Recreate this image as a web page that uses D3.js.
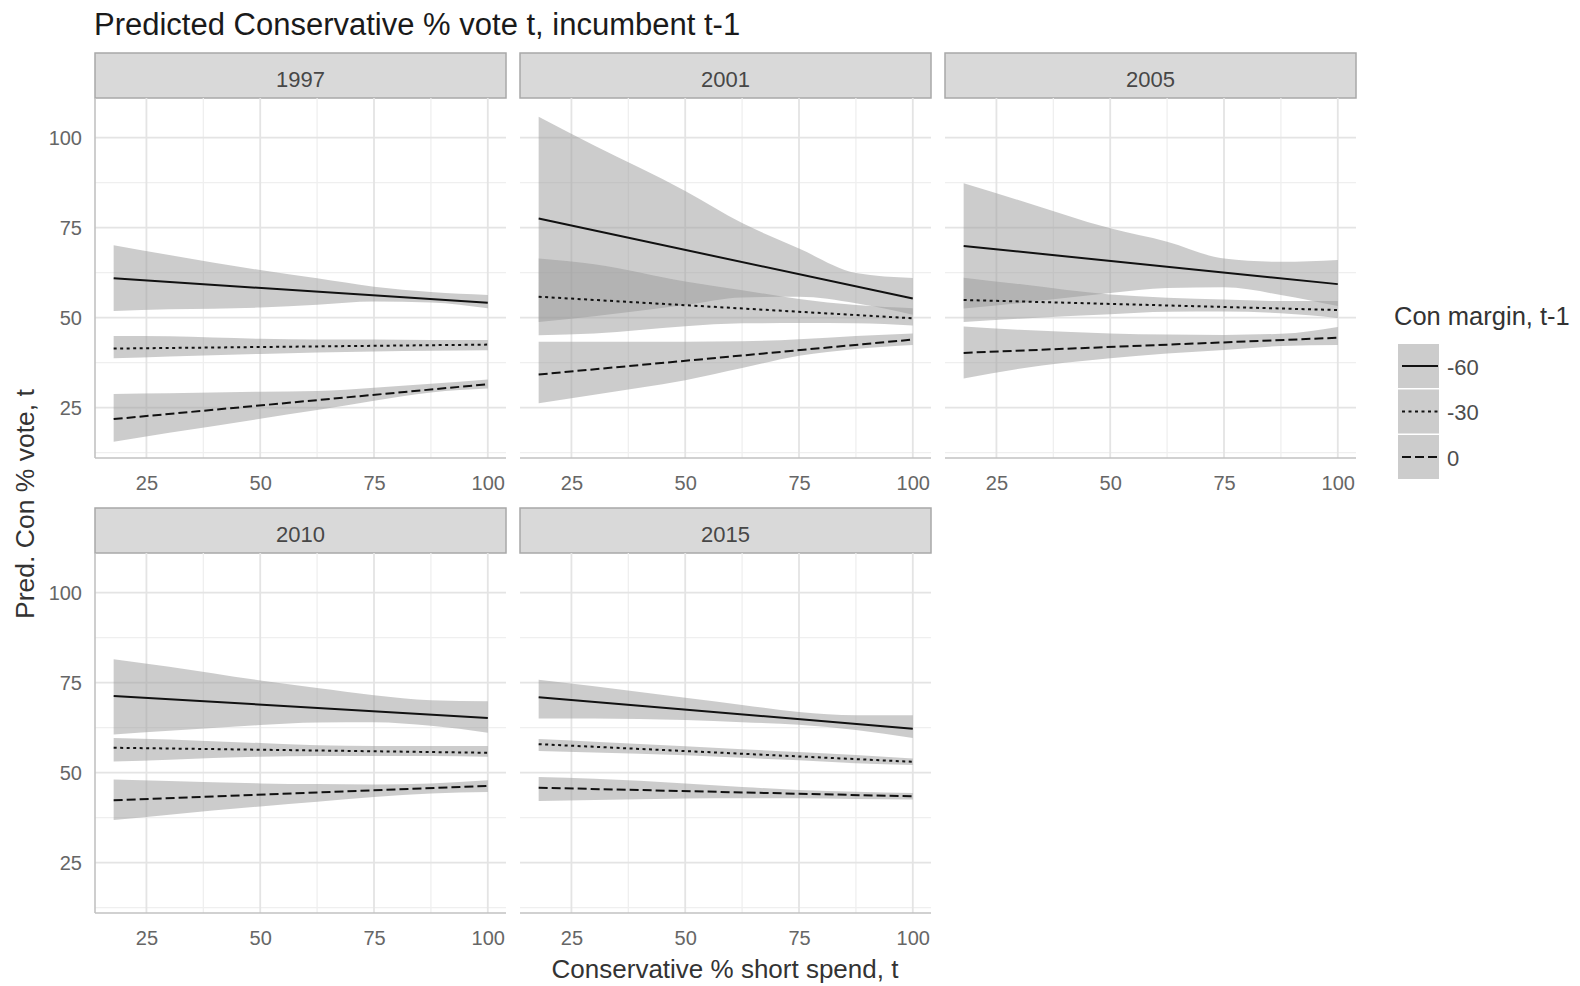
<!DOCTYPE html>
<html lang="en">
<head>
<meta charset="UTF-8">
<title>Predicted Conservative % vote t, incumbent t-1</title>
<script src="https://d3js.org/d3.v7.min.js"></script>
<style>
  body { margin: 0; background: #fff; }
  text { font-family: "Liberation Sans", Arial, sans-serif; }
</style>
</head>
<body>
<svg width="1580" height="986"></svg>
<script>
// facets and legend levels
const years = ["1997", "2001", "2005", "2010", "2015"];
const marginLevels = ["-60", "-30", "0"];
const dashStyles = ["none", "3,3.5", "9,4"];

const xTicks = [25, 50, 75, 100];
const yTicks = [25, 50, 75, 100];
const xMinor = [37.5, 62.5, 87.5];
const yMinor = [12.5, 37.5, 62.5, 87.5];

// x positions at which the confidence bands were read
const bandX = [17.8, 30, 50, 62.5, 75, 87.5, 100];
const fitX = [17.8, 100];

// per year: fitted line ends [-60, -30, 0], band lower / upper
const fit1997 = [[60.9, 54.1], [41.4, 42.5], [21.8, 31.5]];
const lo1997 = [[51.8, 52.3, 52.8, 53.6, 54.5, 54.2, 52.6],
                [38.7, 39.2, 39.9, 40.3, 40.6, 40.8, 40.9],
                [15.5, 18.0, 21.9, 24.3, 26.9, 29.2, 30.3]];
const hi1997 = [[70.1, 67.4, 63.2, 60.9, 58.6, 57.1, 56.3],
                [44.9, 44.8, 44.1, 43.9, 43.9, 43.8, 43.8],
                [28.8, 29.0, 29.4, 29.6, 30.5, 31.6, 32.8]];

const fit2001 = [[77.5, 55.3], [55.8, 49.8], [34.2, 43.9]];
const lo2001 = [[48.8, 50.4, 53.5, 55.6, 55.8, 54.0, 50.8],
                [45.1, 45.6, 47.6, 48.4, 48.5, 48.4, 47.8],
                [26.2, 28.6, 32.6, 36.0, 39.4, 41.3, 42.4]];
const hi2001 = [[105.8, 97.8, 85.2, 76.3, 69.2, 62.4, 61.0],
                [66.4, 64.8, 60.0, 57.6, 55.2, 53.5, 52.6],
                [43.3, 43.3, 43.3, 43.4, 44.0, 44.9, 45.6]];

const fit2005 = [[69.9, 59.3], [54.9, 52.1], [40.2, 44.4]];
const lo2005 = [[52.5, 54.0, 56.8, 58.2, 58.4, 56.3, 53.2],
                [48.8, 49.7, 50.9, 51.6, 51.7, 51.2, 49.9],
                [33.1, 35.8, 38.7, 40.0, 41.0, 42.1, 42.4]];
const hi2005 = [[87.3, 82.6, 74.8, 71.1, 66.4, 65.5, 66.0],
                [61.1, 59.3, 56.4, 55.5, 55.0, 54.6, 54.6],
                [47.5, 46.6, 45.6, 45.3, 45.2, 45.5, 47.4]];

const fit2010 = [[71.3, 65.2], [56.9, 55.5], [42.3, 46.3]];
const lo2010 = [[60.6, 61.6, 63.2, 63.9, 64.0, 63.0, 61.1],
                [53.1, 53.6, 54.4, 54.6, 54.6, 54.6, 54.4],
                [36.8, 38.3, 40.6, 41.9, 43.2, 44.2, 44.6]];
const hi2010 = [[81.5, 79.4, 75.6, 73.5, 71.5, 70.1, 69.8],
                [59.6, 59.2, 58.2, 57.6, 57.4, 57.4, 57.4],
                [48.1, 47.7, 47.0, 46.8, 46.7, 47.0, 47.9]];

const fit2015 = [[70.9, 62.2], [57.9, 53.0], [45.8, 43.4]];
const lo2015 = [[65.0, 65.0, 64.6, 64.0, 63.3, 61.8, 59.6],
                [56.0, 55.6, 54.8, 54.1, 53.4, 52.6, 52.1],
                [42.1, 42.4, 42.8, 42.9, 42.9, 42.7, 42.5]];
const hi2015 = [[75.8, 74.0, 70.8, 68.8, 66.8, 65.9, 65.9],
                [59.3, 58.6, 57.3, 56.5, 55.7, 54.9, 53.9],
                [48.8, 48.3, 47.0, 46.0, 45.2, 44.7, 44.3]];

const fits = [fit1997, fit2001, fit2005, fit2010, fit2015];
const lows = [lo1997, lo2001, lo2005, lo2010, lo2015];
const highs = [hi1997, hi2001, hi2005, hi2010, hi2015];

const svg = d3.select("svg");

const colLeft = [95, 520, 945],
      rowTop = [53, 508],
      panelW = 411, stripH = 45, panelH = 360;

const x = d3.scaleLinear().domain([13.7, 104.0]).range([0, panelW]);
const y = d3.scaleLinear().domain([11, 111]).range([panelH, 0]);

const band = d3.area()
    .x(d => x(d.x)).y0(d => y(d.lo)).y1(d => y(d.hi))
    .curve(d3.curveMonotoneX);
const line = d3.line().x(d => x(d.x)).y(d => y(d.v));

years.forEach((yr, i) => {
    const col = i % 3, row = Math.floor(i / 3);
    const left = colLeft[col], top = rowTop[row];

    // strip
    svg.append("rect")
       .attr("x", left).attr("y", top)
       .attr("width", panelW).attr("height", stripH)
       .attr("fill", "#d9d9d9").attr("stroke", "#a8a8a8").attr("stroke-width", 1.5);
    svg.append("text")
       .attr("x", left + panelW / 2).attr("y", top + stripH / 2 + 11)
       .attr("text-anchor", "middle").attr("font-size", 22).attr("fill", "#474747")
       .text(yr);

    const g = svg.append("g").attr("transform", `translate(${left},${top + stripH})`);

    // grid
    g.selectAll(".gy").data(yMinor).enter().append("line")
     .attr("x1", 0).attr("x2", panelW).attr("y1", d => y(d)).attr("y2", d => y(d))
     .attr("stroke", "#efefef").attr("stroke-width", 1.3);
    g.selectAll(".gx").data(xMinor).enter().append("line")
     .attr("y1", 0).attr("y2", panelH).attr("x1", d => x(d)).attr("x2", d => x(d))
     .attr("stroke", "#efefef").attr("stroke-width", 1.3);
    g.selectAll(".gY").data(yTicks).enter().append("line")
     .attr("x1", 0).attr("x2", panelW).attr("y1", d => y(d)).attr("y2", d => y(d))
     .attr("stroke", "#e4e4e4").attr("stroke-width", 1.8);
    g.selectAll(".gX").data(xTicks).enter().append("line")
     .attr("y1", 0).attr("y2", panelH).attr("x1", d => x(d)).attr("x2", d => x(d))
     .attr("stroke", "#e4e4e4").attr("stroke-width", 1.8);

    // confidence bands
    marginLevels.forEach((m, k) => {
        const pts = bandX.map((bx, j) => ({ x: bx, lo: lows[i][k][j], hi: highs[i][k][j] }));
        g.append("path").datum(pts)
         .attr("d", band).attr("fill", "#999999").attr("fill-opacity", 0.5);
    });
    // fitted lines
    marginLevels.forEach((m, k) => {
        const pts = fitX.map((fx, j) => ({ x: fx, v: fits[i][k][j] }));
        g.append("path").datum(pts)
         .attr("d", line).attr("fill", "none").attr("stroke", "#111")
         .attr("stroke-width", 2)
         .attr("stroke-dasharray", dashStyles[k]);
    });

    // axis lines
    g.append("line").attr("x1", 0).attr("x2", panelW).attr("y1", panelH).attr("y2", panelH)
     .attr("stroke", "#c2c2c2").attr("stroke-width", 1.6);
    if (col === 0) {
        g.append("line").attr("x1", 0).attr("x2", 0).attr("y1", 0).attr("y2", panelH)
         .attr("stroke", "#c2c2c2").attr("stroke-width", 1.6);
        const ya = g.append("g")
            .call(d3.axisLeft(y).tickValues(yTicks).tickSize(0).tickPadding(13));
        ya.select(".domain").remove();
        ya.selectAll("text").attr("font-size", 20).attr("fill", "#666")
          .attr("font-family", "Liberation Sans, Arial, sans-serif");
    }
    const xa = g.append("g").attr("transform", `translate(0,${panelH})`)
        .call(d3.axisBottom(x).tickValues(xTicks).tickSize(0).tickPadding(18));
    xa.select(".domain").remove();
    xa.selectAll("text").attr("font-size", 20).attr("fill", "#666")
      .attr("font-family", "Liberation Sans, Arial, sans-serif");
});

// titles
svg.append("text").attr("x", 94).attr("y", 35)
   .attr("font-size", 31).attr("fill", "#1a1a1a")
   .text("Predicted Conservative % vote t, incumbent t-1");
svg.append("text").attr("x", 725).attr("y", 978)
   .attr("text-anchor", "middle").attr("font-size", 26).attr("fill", "#333")
   .text("Conservative % short spend, t");
svg.append("text").attr("transform", "translate(34,504) rotate(-90)")
   .attr("text-anchor", "middle").attr("font-size", 26.5).attr("fill", "#333")
   .text("Pred. Con % vote, t");

// legend
const lg = svg.append("g");
lg.append("text").attr("x", 1394).attr("y", 325)
  .attr("font-size", 25.5).attr("fill", "#333").text("Con margin, t-1");
marginLevels.forEach((m, k) => {
    const ky = 344 + k * 45.5;
    lg.append("rect").attr("x", 1398).attr("y", ky).attr("width", 41).attr("height", 44)
      .attr("fill", "#999999").attr("fill-opacity", 0.5);
    lg.append("line").attr("x1", 1402).attr("x2", 1438).attr("y1", ky + 22).attr("y2", ky + 22)
      .attr("stroke", "#111").attr("stroke-width", 2).attr("stroke-dasharray", dashStyles[k]);
    lg.append("text").attr("x", 1447).attr("y", ky + 23).attr("dy", "0.36em")
      .attr("font-size", 22).attr("fill", "#4d4d4d").text(m);
});
</script>
</body>
</html>
